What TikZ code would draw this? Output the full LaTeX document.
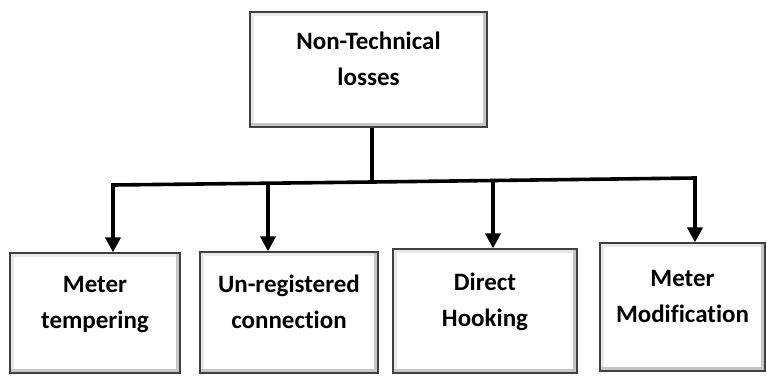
\documentclass[tikz,border=0pt]{standalone}
\usepackage{fontspec}
\setmainfont{Carlito}[Ligatures=NoCommon]
\usepackage{tikz}
\usetikzlibrary{arrows.meta}

\begin{document}
\begin{tikzpicture}[x=1pt, y=-1pt,
    bevel/.style={rectangle, draw=black!75, line width=1.2pt, fill=white,
                  align=center, inner sep=2pt, text depth=22pt,
                  font=\bfseries\fontsize{25}{36}\selectfont,
                  path picture={
                    \draw[line width=8pt, gray!18] (path picture bounding box.south west) rectangle (path picture bounding box.north east);
                    \draw[line width=8pt, gray!45] (path picture bounding box.south west) -- (path picture bounding box.south east) -- (path picture bounding box.north east);
                  }},
    link/.style={line width=3.6pt, black},
    arrow/.style={link, -{Triangle[width=15pt, length=15pt]}}
]
\useasboundingbox (0,0) rectangle (767,376);

\node[bevel, minimum width=237pt, minimum height=115pt] (ntl) at (368.5,69.5) {Non-Technical\\losses};

\node[bevel, minimum width=170pt, minimum height=120pt] (tamper) at (95,313) {Meter\\tempering};
\node[bevel, minimum width=178pt, minimum height=121pt] (unreg) at (289,312.5) {Un-registered\\connection};
\node[bevel, minimum width=184pt, minimum height=124pt] (hook) at (485,311) {Direct\\Hooking};
\node[bevel, minimum width=165pt, minimum height=128pt] (modif) at (682.5,307) {Meter\\Modification};

% branch points on the bar
\coordinate (jt) at (372,182);
\coordinate (j1) at (113,185);
\coordinate (j2) at (268,184);
\coordinate (j3) at (493,180.5);
\coordinate (j4) at (695,178);

\draw[link] (ntl.south -| jt) -- (jt);
\draw[arrow] (jt) -- (j1) -- (j1 |- tamper.north);
\draw[arrow] (jt) -- (j4) -- (j4 |- modif.north);
\draw[arrow] (j2) -- (j2 |- unreg.north);
\draw[arrow] (j3) -- (j3 |- hook.north);
\end{tikzpicture}
\end{document}
